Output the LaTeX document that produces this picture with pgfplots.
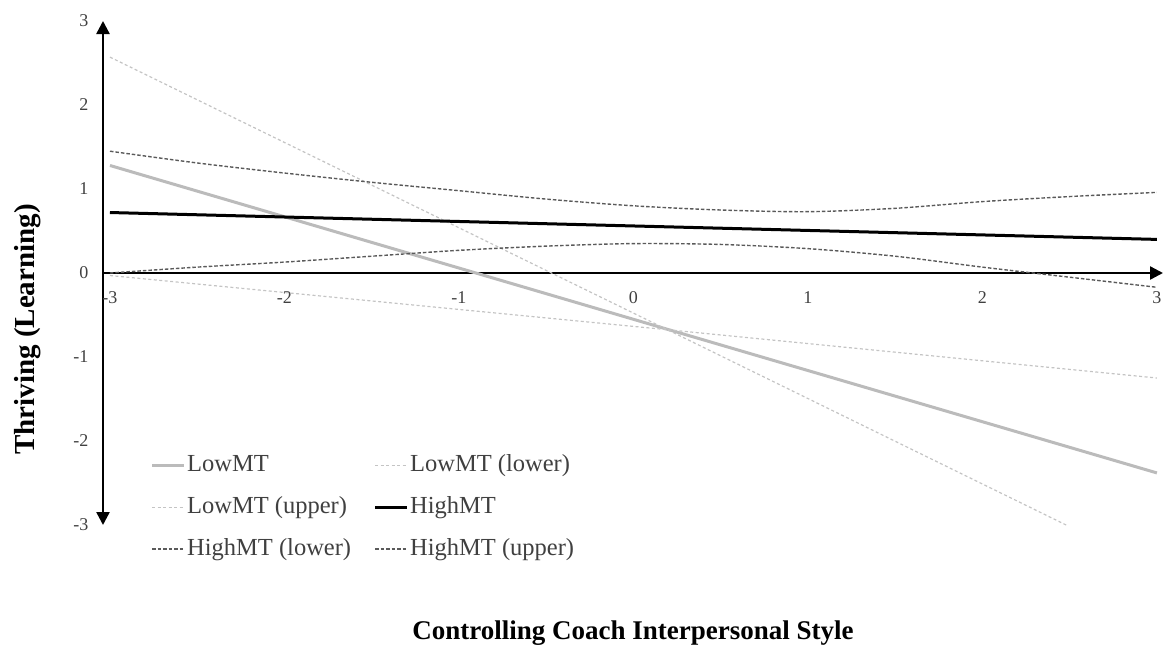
\documentclass[border=0pt]{standalone}
\usepackage{pgfplots}
\pgfplotsset{compat=1.18}
\usepackage{fontspec}
\setmainfont{Liberation Serif}
\usetikzlibrary{arrows.meta}
\definecolor{lowsolid}{HTML}{BBBBBB}
\definecolor{lowband}{HTML}{C4C4C4}
\definecolor{highband}{HTML}{5A5A5A}
\definecolor{txt}{HTML}{404040}
\begin{document}
\begin{tikzpicture}
\path[use as bounding box] (-103pt,-124pt) rectangle (1062pt,525pt);
\begin{axis}[
  at={(0pt,0pt)}, anchor=south west,
  scale only axis, width=1060pt, height=504pt,
  xmin=-3.04, xmax=3.035, ymin=-3, ymax=3,
  enlargelimits=false, clip=false,
  axis x line=middle, axis y line=left,
  x axis line style={line width=2.4pt, -{Triangle[length=13pt,width=13pt]}},
  y axis line style={line width=2.4pt, {Triangle[length=13pt,width=13pt]}-{Triangle[length=13pt,width=13pt]}},
  xtick={-3,-2,-1,0,1,2,3}, xticklabels={-3,-2,-1,0,1,2,3},
  ytick={-3,-2,-1,0,1,2,3}, yticklabels={-3,-2,-1,0,1,2,3},
  hide obscured x ticks=false, hide obscured y ticks=false,
  major tick length=0pt,
  tick label style={font=\fontsize{18}{20}\selectfont, text=txt},
  xticklabel style={anchor=center, yshift=-25pt},
  yticklabel style={anchor=east, xshift=-11pt},
  every axis x label/.style={at={(axis description cs:0.5,-0.215)}, anchor=center},
  every axis y label/.style={at={(axis description cs:-0.0712,0.388)}, rotate=90, anchor=center},
  xlabel={\fontsize{27}{32}\selectfont\bfseries Controlling Coach Interpersonal Style},
  ylabel={\fontsize{29}{34}\selectfont\bfseries Thriving (Learning)},
  legend columns=2,
  legend image code/.code={\draw[#1] (0pt,0pt) -- (32pt,0pt);},
  legend style={draw=none, fill=none, inner sep=0pt,
    at={(axis description cs:0.0448,0.1409)}, anchor=north west,
    font=\fontsize{24.5}{29}\selectfont, text=txt,
    cells={anchor=west},
    nodes={inner xsep=1.5pt, inner ysep=0pt, text height=17pt, text depth=5pt},
    row sep=20pt,
    /tikz/every even column/.append style={column sep=21pt}},
]
% LowMT
\addplot[color=lowsolid, line width=3pt] coordinates {(-3,1.28) (0.17,-0.655) (3,-2.38)};
\addlegendentry{LowMT}
% LowMT (lower)
\addplot[color=lowband, line width=1.2pt, dash pattern=on 3pt off 2.5pt] coordinates {(-3,-0.03) (0.17,-0.67) (3,-1.25)};
\addlegendentry{LowMT (lower)}
% LowMT (upper)
\addplot[color=lowband, line width=1.2pt, dash pattern=on 3pt off 2.5pt] coordinates {(-3,2.57) (0.17,-0.65) (2.48,-3.0)};
\addlegendentry{LowMT (upper)}
% HighMT
\addplot[color=black, line width=3pt] coordinates {(-3,0.72) (0,0.56) (3,0.40)};
\addlegendentry{HighMT}
% HighMT (lower)
\addplot[color=highband, line width=1.4pt, dash pattern=on 3.5pt off 2pt, smooth] coordinates {(-3,0.0) (-2.5,0.07) (-2,0.13) (-1.5,0.2) (-1,0.27) (-0.5,0.32) (0,0.35) (0.5,0.34) (1,0.29) (1.5,0.2) (2,0.07) (2.5,-0.05) (3,-0.17)};
\addlegendentry{HighMT (lower)}
% HighMT (upper)
\addplot[color=highband, line width=1.4pt, dash pattern=on 3.5pt off 2pt, smooth] coordinates {(-3,1.45) (-2.5,1.31) (-2,1.19) (-1.5,1.08) (-1,0.98) (-0.5,0.88) (0,0.80) (0.5,0.75) (1,0.73) (1.5,0.77) (2,0.85) (2.5,0.91) (3,0.96)};
\addlegendentry{HighMT (upper)}
\end{axis}
\end{tikzpicture}
\end{document}
